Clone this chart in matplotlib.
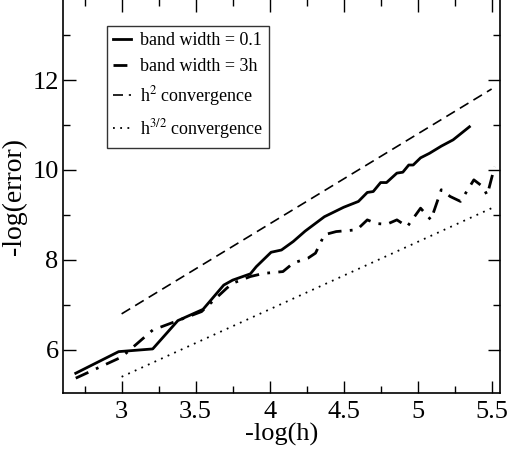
import numpy as np
import matplotlib
matplotlib.use('Agg')
import matplotlib.pyplot as plt
from matplotlib.ticker import MultipleLocator, FormatStrFormatter

plt.rcParams['font.family'] = ['Liberation Serif', 'DejaVu Serif']
plt.rcParams['mathtext.fontset'] = 'stix'

# band width = 0.1
x_bw01 = [2.69, 2.98, 3.21, 3.38, 3.55, 3.69, 3.75, 3.87, 3.91, 4.01, 4.08, 4.16, 4.24,
          4.37, 4.50, 4.60, 4.66, 4.70, 4.75, 4.79, 4.86, 4.90, 4.94, 4.97, 5.02, 5.08,
          5.16, 5.24, 5.35]
y_bw01 = [5.48, 5.96, 6.02, 6.65, 6.90, 7.44, 7.55, 7.69, 7.85, 8.17, 8.22, 8.41, 8.64,
          8.96, 9.17, 9.30, 9.50, 9.52, 9.72, 9.72, 9.93, 9.95, 10.11, 10.11, 10.27, 10.37,
          10.53, 10.67, 10.96]

# band width = 3h
x_bw3h = [2.69, 3.00, 3.21, 3.38, 3.54, 3.71, 3.75, 3.87, 3.96, 4.09, 4.16, 4.26, 4.31,
          4.37, 4.45, 4.59, 4.66, 4.72, 4.79, 4.86, 4.93, 5.02, 5.09, 5.16, 5.22, 5.29,
          5.38, 5.44, 5.47, 5.52]
y_bw3h = [5.37, 5.84, 6.44, 6.65, 6.85, 7.37, 7.48, 7.63, 7.70, 7.74, 7.93, 8.04, 8.15,
          8.56, 8.63, 8.67, 8.89, 8.81, 8.79, 8.89, 8.74, 9.15, 8.89, 9.56, 9.41, 9.30,
          9.78, 9.63, 9.44, 10.07]

# reference convergence lines
x_ref = [3.0, 5.5]
y_h2 = [6.8, 11.8]
y_h32 = [5.4, 9.15]

fig = plt.figure(figsize=(5.07, 4.61), dpi=100)
ax = fig.add_axes([0.124, 0.1475, 0.862, 0.8545])

ax.plot(x_bw01, y_bw01, color='black', lw=2.0, ls='-', label='band width = 0.1')
ax.plot(x_bw3h, y_bw3h, color='black', lw=2.0, ls=(0, (5, 3, 1, 3)), label='band width = 3h')
ax.plot(x_ref, y_h2, color='black', lw=1.2, ls=(0, (6, 3.5)), label='h$^2$ convergence')
ax.plot(x_ref, y_h32, color='black', lw=1.3, ls=(0, (1, 3)), label='h$^{3/2}$ convergence')

ax.set_xlim(2.603, 5.556)
ax.set_ylim(5.04, 13.8)
ax.xaxis.set_major_locator(MultipleLocator(0.5))
ax.xaxis.set_minor_locator(MultipleLocator(0.25))
ax.xaxis.set_major_formatter(FormatStrFormatter('%g'))
ax.yaxis.set_major_locator(MultipleLocator(2))
ax.yaxis.set_minor_locator(MultipleLocator(1))
ax.tick_params(which='both', direction='in', top=True, right=True, labelsize=19)
ax.tick_params(axis='x', pad=6)
ax.tick_params(axis='y', pad=3)
ax.tick_params(which='major', length=9, width=1)
ax.tick_params(which='minor', length=5, width=1)
for s in ax.spines.values():
    s.set_linewidth(1.2)

ax.set_xlabel('-log(h)', fontsize=19, labelpad=0)
ax.set_ylabel('-log(error)', fontsize=20, labelpad=4)

leg = ax.legend(loc='upper left', bbox_to_anchor=(0.10, 0.932), fontsize=13, frameon=True,
                fancybox=False, edgecolor='black', handlelength=1.0, handletextpad=0.5,
                labelspacing=0.5, borderpad=0.35, borderaxespad=0)
leg.get_frame().set_linewidth(1.0)

plt.savefig('out.png', dpi=100)
